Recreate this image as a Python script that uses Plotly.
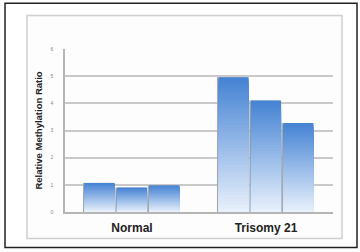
import plotly.graph_objects as go
import numpy as np

categories = ["Normal", "Trisomy 21"]
sample1 = [1.07, 4.96]
sample2 = [0.90, 4.10]
sample3 = [0.98, 3.28]
series = [sample1, sample2, sample3]
y_ticks = [0, 1, 2, 3, 4, 5, 6]

top_rgb = np.array([70, 132, 212])
bot_rgb = np.array([236, 243, 252])
N = 40

bargap = 0.275
group_w = 1 - bargap
slot = group_w / 3
bar_w = slot * 0.93
shadow_shift = 0.012

x_idx = list(range(len(categories)))
fig = go.Figure()

for i, vals in enumerate(series):
    off = -group_w / 2 + i * slot + (slot - bar_w) / 2
    # shadow bar (gray edge on left side)
    fig.add_trace(go.Bar(
        x=x_idx, y=vals, width=bar_w, offset=off - shadow_shift,
        marker=dict(color="#a9a9a9", line=dict(width=0)),
        hoverinfo="skip", showlegend=False))
    # gradient via progressively shorter, lighter bars
    for k in range(N):
        t = k / N
        c = top_rgb + (bot_rgb - top_rgb) * t
        h = [v * (1 - t) for v in vals]
        fig.add_trace(go.Bar(
            x=x_idx, y=h, width=bar_w, offset=off,
            marker=dict(color="rgb(%d,%d,%d)" % tuple(c.astype(int)), line=dict(width=0)),
            hoverinfo="skip", showlegend=False))

fig.update_layout(
    width=360, height=252,
    margin=dict(l=65, r=27, t=49, b=40),
    barmode="overlay",
    paper_bgcolor="white",
    plot_bgcolor="rgba(0,0,0,0)",
    font=dict(family="Liberation Sans", color="#222"),
    shapes=[
        dict(type="rect", xref="paper", yref="paper", layer="below",
             x0=-38/268, x1=277/268, y0=-26.5/162.5, y1=196/162.5,
             line=dict(color="#cfcfcf", width=1.5), fillcolor="#fdfdfd"),
        dict(type="rect", xref="paper", yref="paper", layer="below",
             x0=-60/268, x1=292/268, y0=-35.5/162.5, y1=208/162.5,
             line=dict(color="#222", width=1.5), fillcolor="rgba(0,0,0,0)"),
    ],
)

fig.update_xaxes(
    tickmode="array", tickvals=x_idx,
    ticktext=["<b>%s</b>" % c for c in categories],
    range=[-0.5, 1.5],
    tickfont=dict(size=12, color="#222"),
    showgrid=False, zeroline=False,
    showline=True, linecolor="#b5b5b5", linewidth=1.5,
    ticks="", ticklabelstandoff=4,
)
fig.update_yaxes(
    range=[0, 6], tickvals=y_ticks,
    tickfont=dict(size=5, color="#888"),
    showgrid=True, gridcolor="#c9c9c9", gridwidth=1.5,
    zeroline=False,
    showline=True, linecolor="#b5b5b5", linewidth=1.5,
    ticks="", ticklabelstandoff=9,
    title=dict(text="<b>Relative Methylation Ratio</b>", font=dict(size=9.5, color="#222"), standoff=6),
)

fig.write_html("out.html", config={"displayModeBar": False},
               post_script="document.body.style.margin='0px';document.body.style.overflow='hidden';")
